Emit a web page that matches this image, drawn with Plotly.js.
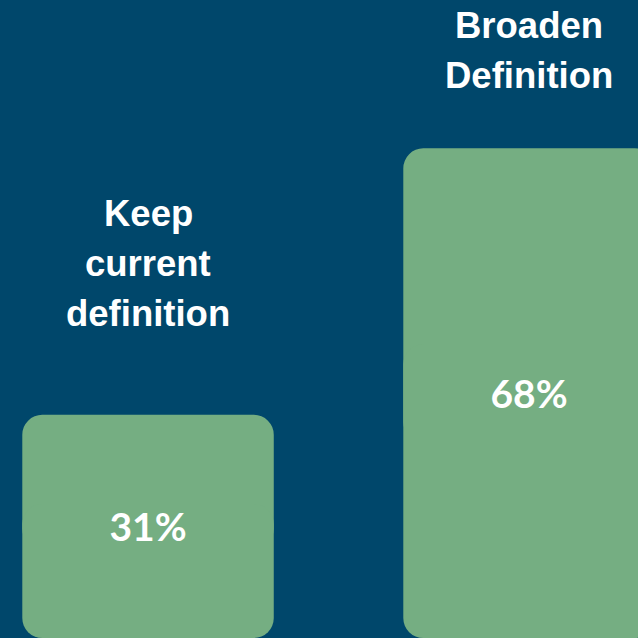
<!DOCTYPE html>
<html>
<head>
<meta charset="utf-8">
<script src="https://cdn.plot.ly/plotly-3.0.1.min.js"></script>
<style>html,body{margin:0;padding:0;background:#00476b;}#chart{width:638px;height:638px;}</style>
</head>
<body>
<div id="chart"></div>
<script>
// Data
const categories = ["Keep current definition", "Broaden Definition"];
const labels = ["Keep<br>current<br>definition", "Broaden<br>Definition"];
const values = [31, 68];
const valueText = ["31%", "68%"];

// Styles
const BG = "#00476b";
const BAR = "#75ae82";
const WHITE = "#ffffff";
const RADIUS = 20;
const BARW = 0.66;
const labelShift = [79, 50];  // px above bar top for label block
const lineGap = 50;

const xIdx = categories.map((c, i) => i);

// upper part: rounded top corners
const upper = {
  type: "bar", x: xIdx, base: values.map(v => v * 0.4), y: values.map(v => v * 0.6),
  width: BARW, marker: {color: BAR, cornerradius: RADIUS, line: {width: 0}},
  hoverinfo: "skip", showlegend: false
};
// lower part: rounded bottom corners
const lower = {
  type: "bar", x: xIdx, base: values.map(v => v * 0.6), y: values.map(v => -v * 0.6),
  width: BARW, marker: {color: BAR, cornerradius: RADIUS, line: {width: 0}},
  hoverinfo: "skip", showlegend: false
};
// full transparent bar carrying the value text
const textBar = {
  type: "bar", x: xIdx, y: values, width: BARW,
  marker: {color: "rgba(0,0,0,0)", line: {width: 0}},
  text: valueText, textposition: "inside", insidetextanchor: "middle",
  constraintext: "none",
  textfont: {family: "Lato, 'Open Sans', sans-serif", size: 39, color: WHITE, weight: 700},
  hoverinfo: "skip", showlegend: false
};

const annotations = [];
labels.forEach((lab, i) => {
  const lines = lab.split("<br>");
  const n = lines.length;
  lines.forEach((ln, j) => {
    annotations.push({
      x: i, y: values[i], xref: "x", yref: "y",
      text: ln, showarrow: false, xanchor: "center", yanchor: "bottom",
      yshift: labelShift[i] + (n - 1 - j) * lineGap,
      font: {family: "'Liberation Sans', Arial, sans-serif", size: 36.5, color: WHITE, weight: 700}
    });
  });
});

const layout = {
  width: 638, height: 638,
  margin: {l: 0, r: 0, t: 0, b: 0, pad: 0},
  paper_bgcolor: BG, plot_bgcolor: BG,
  barmode: "overlay",
  xaxis: {range: [-0.3885, 1.286], visible: false, fixedrange: true},
  yaxis: {range: [0, 88.6], visible: false, fixedrange: true},
  annotations: annotations,
  showlegend: false
};

Plotly.newPlot("chart", [upper, lower, textBar], layout, {displayModeBar: false, staticPlot: true});
</script>
</body>
</html>
